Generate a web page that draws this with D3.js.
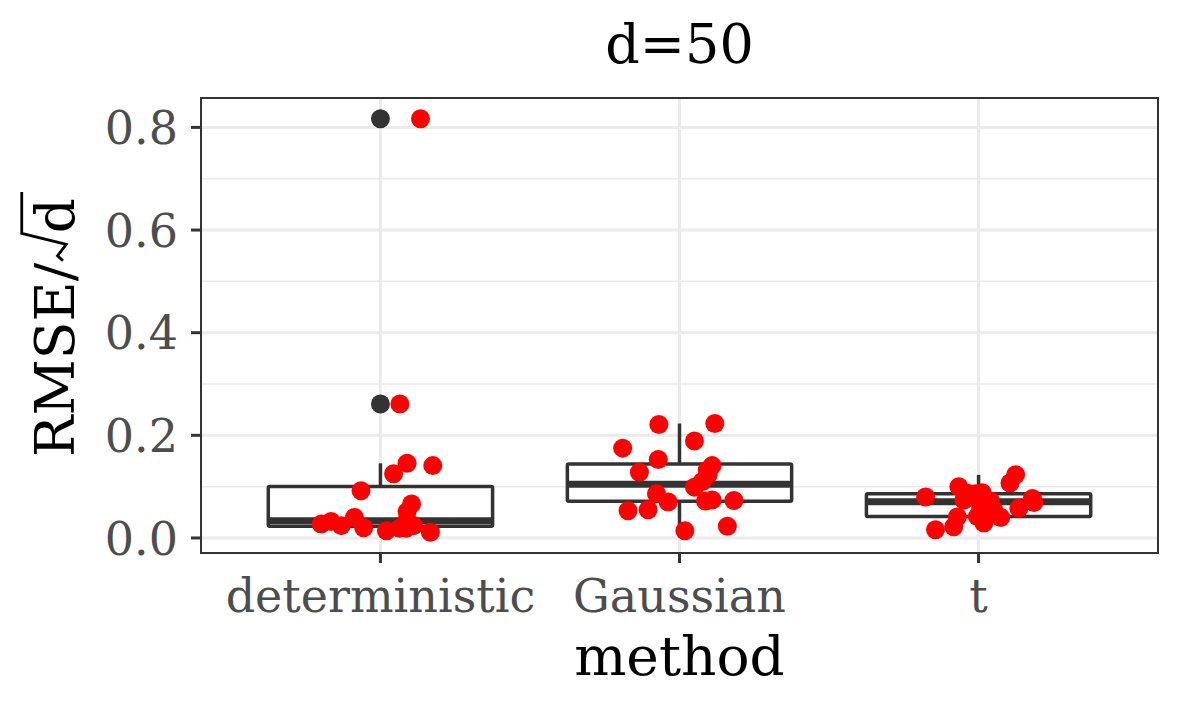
<!DOCTYPE html>
<html lang="en">
<head>
<meta charset="UTF-8">
<title>d=50</title>
<script src="https://d3js.org/d3.v7.min.js"></script>
<style>
  body { margin: 0; background: #fff; }
  text { font-family: "DejaVu Serif", serif; }
</style>
</head>
<body>
<svg width="1181" height="708"></svg>
<script>
    // categories and values
    const methods = ["deterministic", "Gaussian", "t"];

    const detValues = [0.817, 0.261, 0.1455, 0.141, 0.125, 0.092, 0.066, 0.051, 0.035, 0.027,
                       0.032, 0.024, 0.040, 0.020, 0.014, 0.019, 0.019, 0.024, 0.011, 0.028];
    const detJitter = [0.134, 0.065, 0.089, 0.175, 0.044, -0.065, 0.104, 0.089, 0.089, -0.198,
                       -0.165, -0.131, -0.087, -0.056, 0.020, 0.064, 0.086, 0.111, 0.167, 0.097];

    const gauValues = [0.221, 0.223, 0.189, 0.175, 0.153, 0.128, 0.141, 0.123, 0.110, 0.099,
                       0.086, 0.070, 0.053, 0.055, 0.072, 0.074, 0.073, 0.023, 0.014, 0.132];
    const gauJitter = [-0.069, 0.118, 0.050, -0.190, -0.071, -0.134, 0.109, 0.096, 0.076, 0.050,
                       -0.077, -0.038, -0.172, -0.105, 0.087, 0.109, 0.182, 0.160, 0.018, 0.093];

    const tValues = [0.123, 0.107, 0.080, 0.100, 0.087, 0.088, 0.074, 0.077, 0.069, 0.058,
                     0.072, 0.061, 0.0545, 0.040, 0.041, 0.029, 0.022, 0.016, 0.042, 0.086];
    const tJitter = [0.124, 0.105, -0.177, -0.066, -0.038, 0.012, -0.049, 0.180, 0.185, 0.135,
                     0.040, 0.007, 0.051, 0.074, -0.071, 0.018, -0.083, -0.144, -0.004, -0.010];

    const yTicks = [0.0, 0.2, 0.4, 0.6, 0.8];
    const yMinor = [0.1, 0.3, 0.5, 0.7];

    const groups = [
        {name: methods[0], values: detValues, jitter: detJitter},
        {name: methods[1], values: gauValues, jitter: gauJitter},
        {name: methods[2], values: tValues, jitter: tJitter}
    ];

    const svg = d3.select("svg");
    const panel = {left: 201, right: 1158, top: 98, bottom: 553};

    // discrete x: positions 1..3, expanded by 0.6
    const x = d3.scaleLinear().domain([0.4, 3.6]).range([panel.left, panel.right]);

    const all = groups.flatMap(g => g.values);
    const lo = d3.min(all), hi = d3.max(all);
    const pad = (hi - lo) * 0.05;
    const y = d3.scaleLinear().domain([lo - pad, hi + pad]).range([panel.bottom, panel.top]);

    const dark = "#333333";

    // grid
    const grid = svg.append("g");
    grid.selectAll(".minor").data(yMinor).enter().append("line")
        .attr("x1", panel.left).attr("x2", panel.right)
        .attr("y1", d => y(d)).attr("y2", d => y(d))
        .attr("stroke", "#EBEBEB").attr("stroke-width", 1.5);
    grid.selectAll(".major").data(yTicks).enter().append("line")
        .attr("x1", panel.left).attr("x2", panel.right)
        .attr("y1", d => y(d)).attr("y2", d => y(d))
        .attr("stroke", "#EBEBEB").attr("stroke-width", 3);
    grid.selectAll(".xmajor").data(methods).enter().append("line")
        .attr("x1", (d, i) => x(i + 1)).attr("x2", (d, i) => x(i + 1))
        .attr("y1", panel.top).attr("y2", panel.bottom)
        .attr("stroke", "#EBEBEB").attr("stroke-width", 3);

    // boxplots
    const boxW = 0.75;
    groups.forEach(function (g, i) {
        const s = g.values.slice().sort(d3.ascending);
        const q1 = d3.quantile(s, 0.25), med = d3.quantile(s, 0.5), q3 = d3.quantile(s, 0.75);
        const iqr = q3 - q1;
        const wLo = d3.min(s.filter(v => v >= q1 - 1.5 * iqr));
        const wHi = d3.max(s.filter(v => v <= q3 + 1.5 * iqr));
        const outl = s.filter(v => v < wLo || v > wHi);
        const cx = x(i + 1), x0 = x(i + 1 - boxW / 2), x1 = x(i + 1 + boxW / 2);
        const b = svg.append("g");
        b.append("line").attr("x1", cx).attr("x2", cx).attr("y1", y(q3)).attr("y2", y(wHi))
            .attr("stroke", dark).attr("stroke-width", 3.5);
        b.append("line").attr("x1", cx).attr("x2", cx).attr("y1", y(q1)).attr("y2", y(wLo))
            .attr("stroke", dark).attr("stroke-width", 3.5);
        b.append("rect").attr("x", x0).attr("width", x1 - x0)
            .attr("y", y(q3)).attr("height", y(q1) - y(q3))
            .attr("fill", "white").attr("stroke", dark).attr("stroke-width", 3.5)
            .attr("rx", 1.5);
        b.append("line").attr("x1", x0).attr("x2", x1).attr("y1", y(med)).attr("y2", y(med))
            .attr("stroke", dark).attr("stroke-width", 7);
        b.selectAll("circle").data(outl).enter().append("circle")
            .attr("cx", cx).attr("cy", d => y(d)).attr("r", 9.5).attr("fill", dark);
    });

    // jittered points
    groups.forEach(function (g, i) {
        svg.append("g").selectAll("circle").data(g.values).enter().append("circle")
            .attr("cx", (d, k) => x(i + 1 + g.jitter[k]))
            .attr("cy", d => y(d))
            .attr("r", 9.5)
            .attr("fill", "#FF0000");
    });

    // panel border
    svg.append("rect").attr("x", panel.left).attr("y", panel.top)
        .attr("width", panel.right - panel.left).attr("height", panel.bottom - panel.top)
        .attr("fill", "none").attr("stroke", dark).attr("stroke-width", 2);

    // y axis ticks & labels
    const ya = svg.append("g");
    ya.selectAll("line").data(yTicks).enter().append("line")
        .attr("x1", panel.left - 10).attr("x2", panel.left)
        .attr("y1", d => y(d)).attr("y2", d => y(d))
        .attr("stroke", dark).attr("stroke-width", 3);
    ya.selectAll("text").data(yTicks).enter().append("text")
        .attr("x", panel.left - 23).attr("y", d => y(d))
        .attr("dy", "0.36em").attr("text-anchor", "end")
        .attr("font-size", 46).attr("fill", "#4D4D4D")
        .text(d => d.toFixed(1));

    // x axis ticks & labels
    const xa = svg.append("g");
    xa.selectAll("line").data(methods).enter().append("line")
        .attr("x1", (d, i) => x(i + 1)).attr("x2", (d, i) => x(i + 1))
        .attr("y1", panel.bottom).attr("y2", panel.bottom + 10)
        .attr("stroke", dark).attr("stroke-width", 3);
    xa.selectAll("text").data(methods).enter().append("text")
        .attr("x", (d, i) => x(i + 1)).attr("y", 612)
        .attr("text-anchor", "middle")
        .attr("font-size", 46).attr("fill", "#4D4D4D")
        .text(d => d);

    // titles
    const midX = (panel.left + panel.right) / 2;
    svg.append("text").attr("x", midX).attr("y", 63).attr("text-anchor", "middle")
        .attr("font-size", 54).attr("fill", "black").text("d=50");
    svg.append("text").attr("x", midX).attr("y", 675).attr("text-anchor", "middle")
        .attr("font-size", 55).attr("fill", "black").text("method");

    // y title: RMSE / radical d, rotated
    const fs = 55;
    const midY = (panel.top + panel.bottom) / 2;
    const yt = svg.append("g").attr("transform", `translate(74,${midY}) rotate(-90)`);
    const t1 = yt.append("text").attr("font-size", fs).attr("fill", "black").text("RMSE/");
    const t2 = yt.append("text").attr("font-size", fs).attr("fill", "black").text("d");
    const w1 = t1.node().getComputedTextLength();
    const wd = t2.node().getComputedTextLength();
    const radW = 0.5 * fs;
    const total = w1 + radW + wd + 6;
    const a0 = -total / 2;
    t1.attr("x", a0);
    const ra = a0 + w1 + 2;
    t2.attr("x", ra + radW);
    const radTop = -0.95 * fs;
    yt.append("path")
        .attr("d", `M${ra},${-0.2 * fs} L${ra + 0.09 * fs},${-0.3 * fs} L${ra + 0.3 * fs},${-0.14 * fs} L${ra + radW},${radTop} L${ra + radW + wd + 6},${radTop}`)
        .attr("fill", "none").attr("stroke", "black")
        .attr("stroke-width", 2.8).attr("stroke-linejoin", "miter");
</script>
</body>
</html>
